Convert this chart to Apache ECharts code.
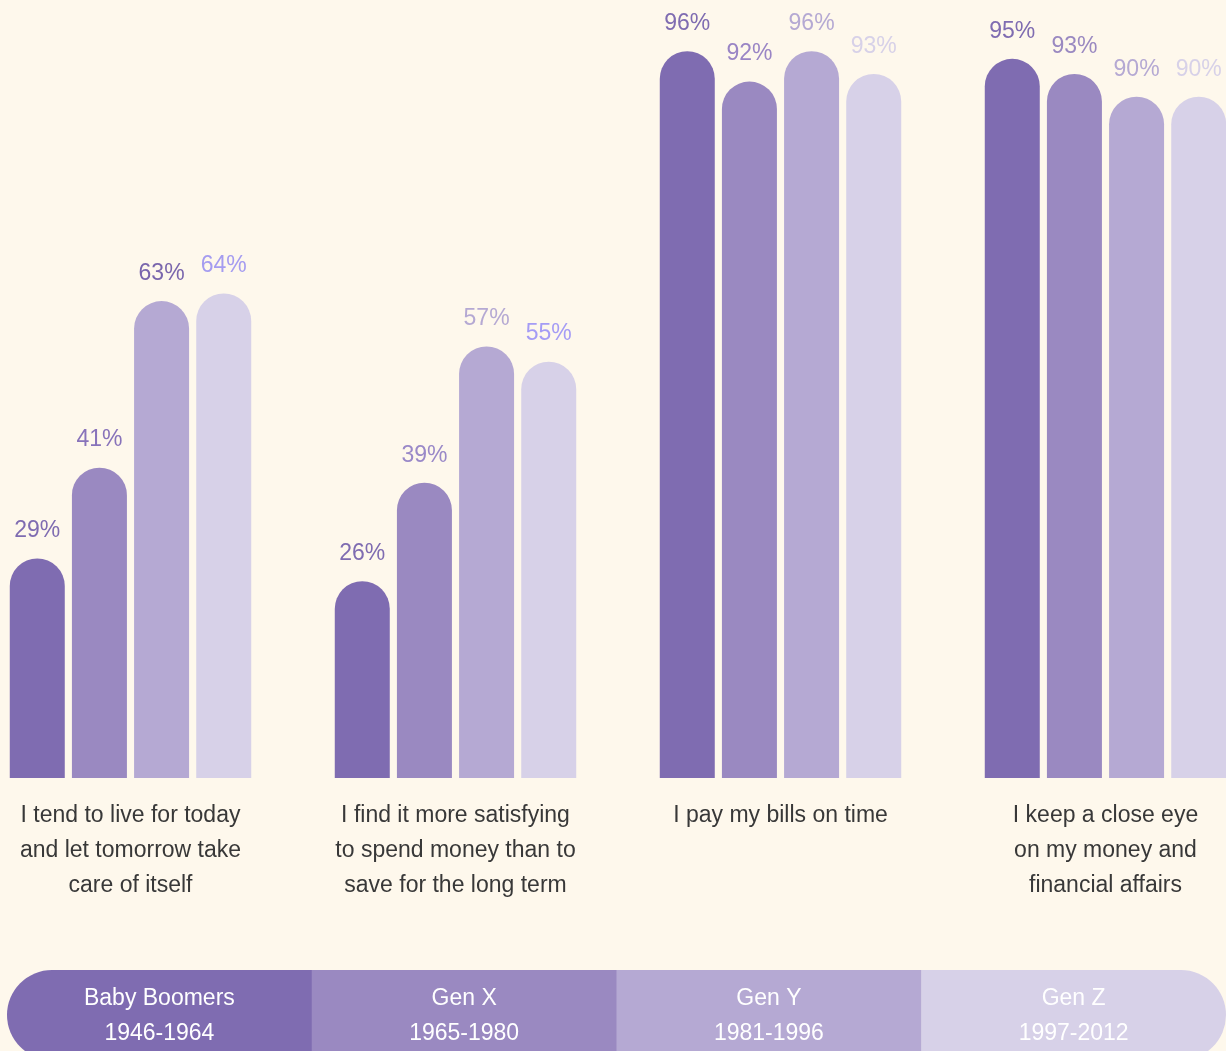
<!DOCTYPE html>
<html>
<head>
<meta charset="utf-8">
<script src="https://cdn.jsdelivr.net/npm/echarts@6/dist/echarts.min.js"></script>
<style>
html,body{margin:0;padding:0;background:#FEF8EC;overflow:hidden;width:1226px;height:1051px;position:relative;}
#chart{width:1300px;height:1051px;position:absolute;left:-32px;top:0;}
</style>
</head>
<body>
<div id="chart"></div>
<script>
// ---- data ----
const categories = [
  "I tend to live for today\nand let tomorrow take\ncare of itself",
  "I find it more satisfying\nto spend money than to\nsave for the long term",
  "I pay my bills on time",
  "I keep a close eye\non my money and\nfinancial affairs"
];
const seriesNames = ["Baby Boomers", "Gen X", "Gen Y", "Gen Z"];
const yearRanges = ["1946-1964", "1965-1980", "1981-1996", "1997-2012"];
const babyBoomers = [29, 26, 96, 95];
const genX = [41, 39, 92, 93];
const genY = [63, 57, 96, 90];
const genZ = [64, 55, 93, 90];

// ---- styles ----
const barColors = ["#7F6CB1", "#9A89C1", "#B5A9D3", "#D7D1E8"];
const labelColors = [
  ["#7F6CB1", "#7F6CB1", "#7F6CB1", "#7F6CB1"],
  ["#8873BA", "#9A89C8", "#9A85C5", "#9A89C1"],
  ["#7A66AD", "#B5A9D3", "#B5A9D3", "#B5A9D3"],
  ["#A59CF0", "#A59CF5", "#D7D1E8", "#D7D1E8"]
];
const FONT = "'Liberation Sans', Arial, sans-serif";
const OFFSET = 32; // chart canvas starts 32px left of the page

const values = [babyBoomers, genX, genY, genZ];
const series = values.map((vals, si) => ({
  name: seriesNames[si],
  type: 'bar',
  barWidth: 55,
  barGap: '13%',
  data: vals.map((v, ci) => ({
    value: v,
    label: { color: labelColors[si][ci] }
  })),
  itemStyle: { color: barColors[si], borderRadius: [27.5, 27.5, 0, 0] },
  label: {
    show: true,
    position: 'top',
    distance: 16,
    formatter: '{c}%',
    fontSize: 23,
    fontWeight: 'normal',
    fontFamily: FONT
  },
  emphasis: { disabled: true },
  animation: false
}));

// legend pill via graphic
const pillX = 7 + OFFSET, pillY = 970, pillW = 1219, pillH = 90, r = 45;
const segW = pillW / seriesNames.length;
const graphics = [];
seriesNames.forEach((name, i) => {
  let radius = [0, 0, 0, 0];
  if (i === 0) radius = [r, 0, 0, r];
  if (i === seriesNames.length - 1) radius = [0, r, r, 0];
  graphics.push({
    type: 'rect',
    shape: { x: pillX + i * segW, y: pillY, width: segW + (i < seriesNames.length - 1 ? 0.5 : 0), height: pillH, r: radius },
    style: { fill: barColors[i] },
    silent: true
  });
  graphics.push({
    type: 'text',
    x: pillX + i * segW + segW / 2,
    y: 999,
    style: {
      text: name, fill: '#FFFFFF', fontSize: 23, fontFamily: FONT,
      align: 'center', verticalAlign: 'middle'
    },
    silent: true
  });
  graphics.push({
    type: 'text',
    x: pillX + i * segW + segW / 2,
    y: 1034,
    style: {
      text: yearRanges[i], fill: '#FFFFFF', fontSize: 23, fontFamily: FONT,
      align: 'center', verticalAlign: 'middle'
    },
    silent: true
  });
});

const chart = echarts.init(document.getElementById('chart'), null, { renderer: 'canvas' });
chart.setOption({
  backgroundColor: '#FEF8EC',
  animation: false,
  grid: { left: 0, right: 0, top: 21, height: 757, containLabel: false },
  xAxis: {
    type: 'category',
    data: categories,
    axisLine: { show: false },
    axisTick: { show: false },
    axisLabel: {
      interval: 0,
      margin: 20,
      color: '#383838',
      fontSize: 23,
      lineHeight: 35,
      fontFamily: FONT,
      align: 'center'
    }
  },
  yAxis: { type: 'value', min: 0, max: 100, show: false, splitLine: { show: false } },
  series: series,
  graphic: graphics
});
</script>
</body>
</html>
